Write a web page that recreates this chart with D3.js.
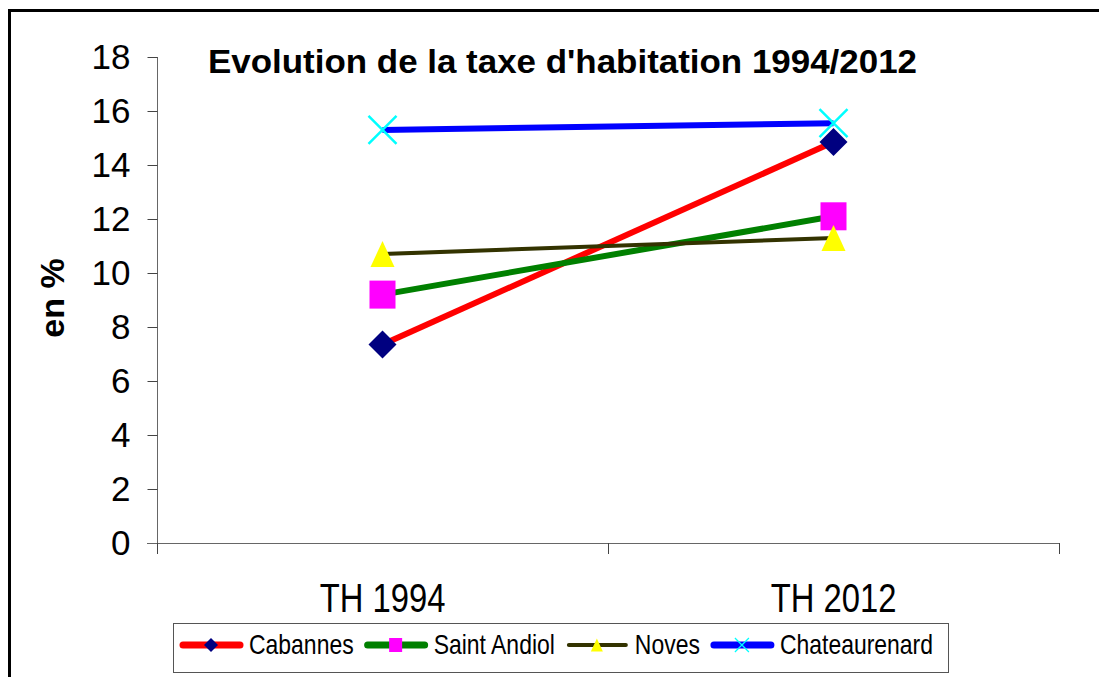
<!DOCTYPE html>
<html lang="fr">
<head>
<meta charset="UTF-8">
<title>Evolution de la taxe d'habitation</title>
<style>
  body { margin: 0; background: #fff; overflow: hidden; }
  svg { display: block; font-family: 'Liberation Sans', Arial, sans-serif; }
</style>
</head>
<body>
<div id="chart"></div>
<script src="https://cdn.jsdelivr.net/npm/d3@7"></script>
<script>
let titleText = "Evolution de la taxe d'habitation 1994/2012"
let ytitle = 'en %'
let categories = ['TH 1994', 'TH 2012']
let seriesNames = ['Cabannes', 'Saint Andiol', 'Noves', 'Chateaurenard']
let cabannes = [7.35, 14.85]
let saintAndiol = [9.2, 12.1]
let noves = [10.7, 11.3]
let chateaurenard = [15.3, 15.55]
let yTicks = [0, 2, 4, 6, 8, 10, 12, 14, 16, 18]

let seriesValues = [cabannes, saintAndiol, noves, chateaurenard]
let lineColors = ['#ff0000', '#008000', '#333300', '#0000ff']
let lineWidths = [6, 6, 4, 6]
let markerTypes = ['diamond', 'square', 'triangle', 'cross']

let width = 1099
let height = 677
let svg = d3.select('#chart').append('svg').attr('width', width).attr('height', height)

// cadre extérieur (sort de l'image à droite et en bas)
svg.append('rect')
  .attr('x', 9.5).attr('y', 10.5).attr('width', width + 200).attr('height', height + 200)
  .attr('fill', 'none').attr('stroke', '#000').attr('stroke-width', 3)

// échelles
let x = d3.scaleBand().domain(categories).range([157, 1059]).padding(0)
let y = d3.scaleLinear().domain([0, 18]).range([543, 57])

// axe Y
let yAxis = d3.axisLeft(y).tickValues(yTicks).tickSize(10).tickPadding(17)
let gy = svg.append('g').attr('transform', 'translate(157.5,0)').call(yAxis)
gy.select('.domain').attr('stroke', '#666').attr('d', 'M0,' + y(18) + 'V554')
gy.selectAll('.tick line').attr('stroke', '#444')
gy.selectAll('.tick text').attr('font-size', 35).attr('fill', '#000')
  .attr('font-family', "'Liberation Sans', Arial, sans-serif")

// axe X
svg.append('line').attr('x1', 147).attr('x2', 1059).attr('y1', 543.5).attr('y2', 543.5)
  .attr('stroke', '#666')
let xEdges = [157, x(categories[1]), 1059]
svg.selectAll('.xtick').data(xEdges).enter().append('line')
  .attr('x1', d => d + 0.5).attr('x2', d => d + 0.5).attr('y1', 543).attr('y2', 554)
  .attr('stroke', '#444')
svg.selectAll('.xlabel').data(categories).enter().append('text')
  .attr('transform', d => 'translate(' + (x(d) + x.bandwidth() / 2) + ',612) scale(0.82,1)')
  .attr('text-anchor', 'middle').attr('font-size', 40).text(d => d)

// titres
svg.append('text').attr('x', 208).attr('y', 73).attr('font-size', 34).attr('font-weight', 'bold')
  .attr('textLength', 709).attr('lengthAdjust', 'spacingAndGlyphs').text(titleText)
svg.append('text').attr('transform', 'translate(64,298) rotate(-90)').attr('text-anchor', 'middle')
  .attr('font-size', 34).attr('font-weight', 'bold').text(ytitle)

// marqueurs
function drawMarker (g, type, cx, cy) {
  if (type === 'diamond') {
    g.append('path').attr('d', 'M' + cx + ',' + (cy - 14) + 'L' + (cx + 14) + ',' + cy + 'L' + cx + ',' + (cy + 14) + 'L' + (cx - 14) + ',' + cy + 'Z')
      .attr('fill', '#000080')
  } else if (type === 'square') {
    g.append('rect').attr('x', cx - 13).attr('y', cy - 14).attr('width', 26).attr('height', 28).attr('fill', '#ff00ff')
  } else if (type === 'triangle') {
    g.append('path').attr('d', 'M' + cx + ',' + (cy - 13) + 'L' + (cx + 12) + ',' + (cy + 13) + 'L' + (cx - 12) + ',' + (cy + 13) + 'Z')
      .attr('fill', '#ffff00')
  } else {
    g.append('path').attr('d', 'M' + (cx - 14) + ',' + (cy - 14) + 'L' + (cx + 14) + ',' + (cy + 14) + 'M' + (cx + 14) + ',' + (cy - 14) + 'L' + (cx - 14) + ',' + (cy + 14))
      .attr('stroke', '#00ffff').attr('stroke-width', 2.5)
  }
}

let line = d3.line().x(d => x(d.c) + x.bandwidth() / 2).y(d => y(d.v))
seriesValues.forEach((vals, i) => {
  let pts = vals.map((v, j) => ({ c: categories[j], v: v }))
  let g = svg.append('g')
  g.append('path').attr('d', line(pts)).attr('fill', 'none')
    .attr('stroke', lineColors[i]).attr('stroke-width', lineWidths[i])
  pts.forEach(p => drawMarker(g, markerTypes[i], x(p.c) + x.bandwidth() / 2, y(p.v)))
})

// légende
let legend = svg.append('g')
legend.append('rect').attr('x', 173.5).attr('y', 623.5).attr('width', 775).attr('height', 49)
  .attr('fill', '#fff').attr('stroke', '#555')
let lx = 180
seriesNames.forEach((name, i) => {
  let ly = 645
  legend.append('line').attr('x1', lx + 3).attr('x2', lx + 60).attr('y1', ly).attr('y2', ly)
    .attr('stroke', lineColors[i]).attr('stroke-width', i === 2 ? 4 : 7).attr('stroke-linecap', 'round')
  let mg = legend.append('g')
  drawMarker(mg, markerTypes[i], 0, 0)
  mg.attr('transform', 'translate(' + (lx + 31) + ',' + ly + ') scale(0.5)')
  let t = legend.append('text').attr('transform', 'translate(' + (lx + 69) + ',654) scale(0.82,1)')
    .attr('font-size', 28).text(name)
  let w = t.node().getComputedTextLength() * 0.82
  lx += 69 + w + 11
})
</script>
</body>
</html>
